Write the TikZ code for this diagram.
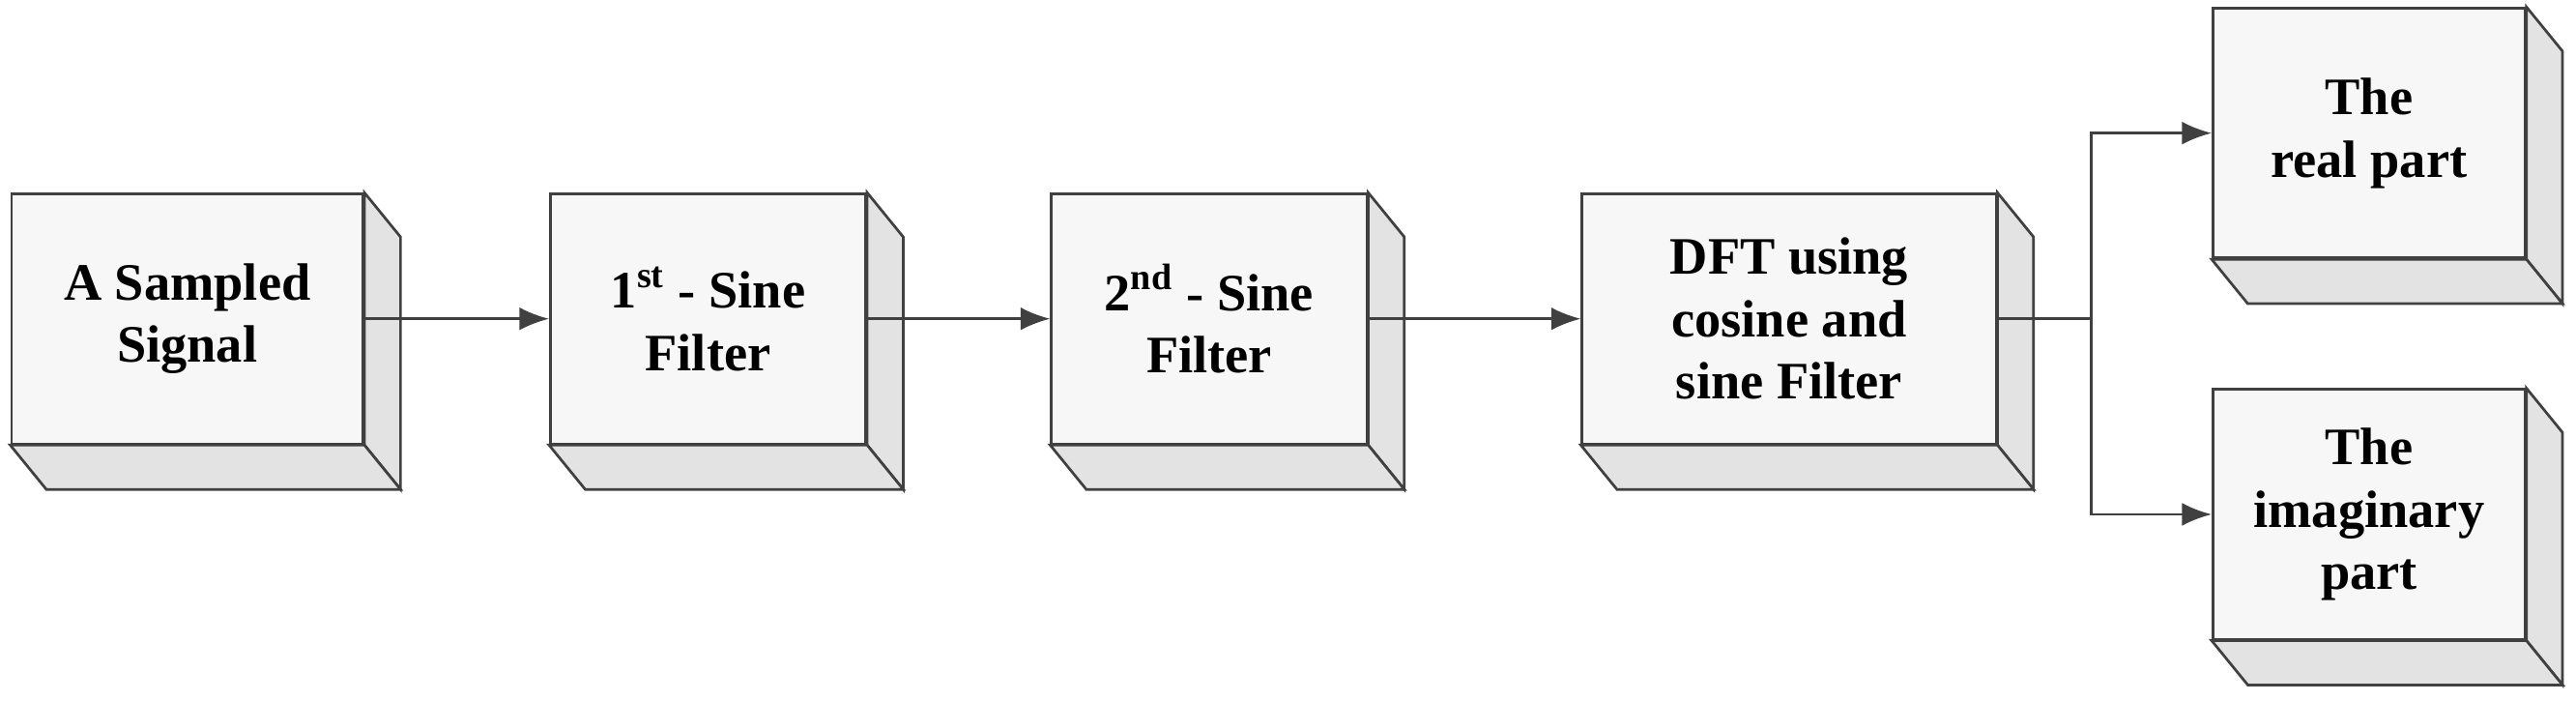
\documentclass[tikz,border=0pt]{standalone}
\usepackage{fontspec}
\setmainfont{Liberation Serif}
\usetikzlibrary{arrows.meta,positioning}
\tikzset{
    % Define style for the front face of a block
    blk/.style={
           rectangle,
           draw=black!75, thick,
           fill=gray!6,
           minimum height=76pt,
           align=center,
           font=\fontsize{16}{19}\selectfont\bfseries},
    % Define style for the depth faces
    side/.style={
           draw=black!75, thick,
           fill=gray!22},
    % Define arrow style
    pil/.style={
           -{Latex[length=9pt,width=7pt]},
           draw=black!75,
           thick}
}
\newcommand*{\bnode}[4]{%
  \node[blk, minimum width=#3] (#1) at (#2) {#4};
  \draw[side] (#1.north east) -- ++(11pt,-13.5pt) -- ([shift={(11pt,-13.5pt)}]#1.south east) -- (#1.south east) -- cycle;
  \draw[side] (#1.south west) -- ++(11pt,-13.5pt) -- ([shift={(11pt,-13.5pt)}]#1.south east) -- (#1.south east) -- cycle;}

\begin{document}
\begin{tikzpicture}[x=0.5pt,y=-0.5pt]
\useasboundingbox (0,0) rectangle (1568,426.5);
% Blocks
\bnode{sig}{114,194}{107pt}{A Sampled\\Signal}
\bnode{sinA}{431,194}{96pt}{1\textsuperscript{st} - Sine\\Filter}
\bnode{sinB}{736,194}{96pt}{2\textsuperscript{nd} - Sine\\Filter}
\bnode{dft}{1089,194}{126pt}{DFT using\\cosine and\\sine Filter}
\bnode{re}{1442,81}{95pt}{The\\real part}
\bnode{im}{1442,313}{95pt}{The\\imaginary\\part}

% Connections
\draw[pil] (sig.east) -- (sinA.west);
\draw[pil] (sinA.east) -- (sinB.west);
\draw[pil] (sinB.east) -- (dft.west);
\draw[draw=black!75, thick] (dft.east) -- ++(28.5pt,0) coordinate (br);
\draw[pil] (br) |- (re.west);
\draw[pil] (br) |- (im.west);
\end{tikzpicture}
\end{document}
